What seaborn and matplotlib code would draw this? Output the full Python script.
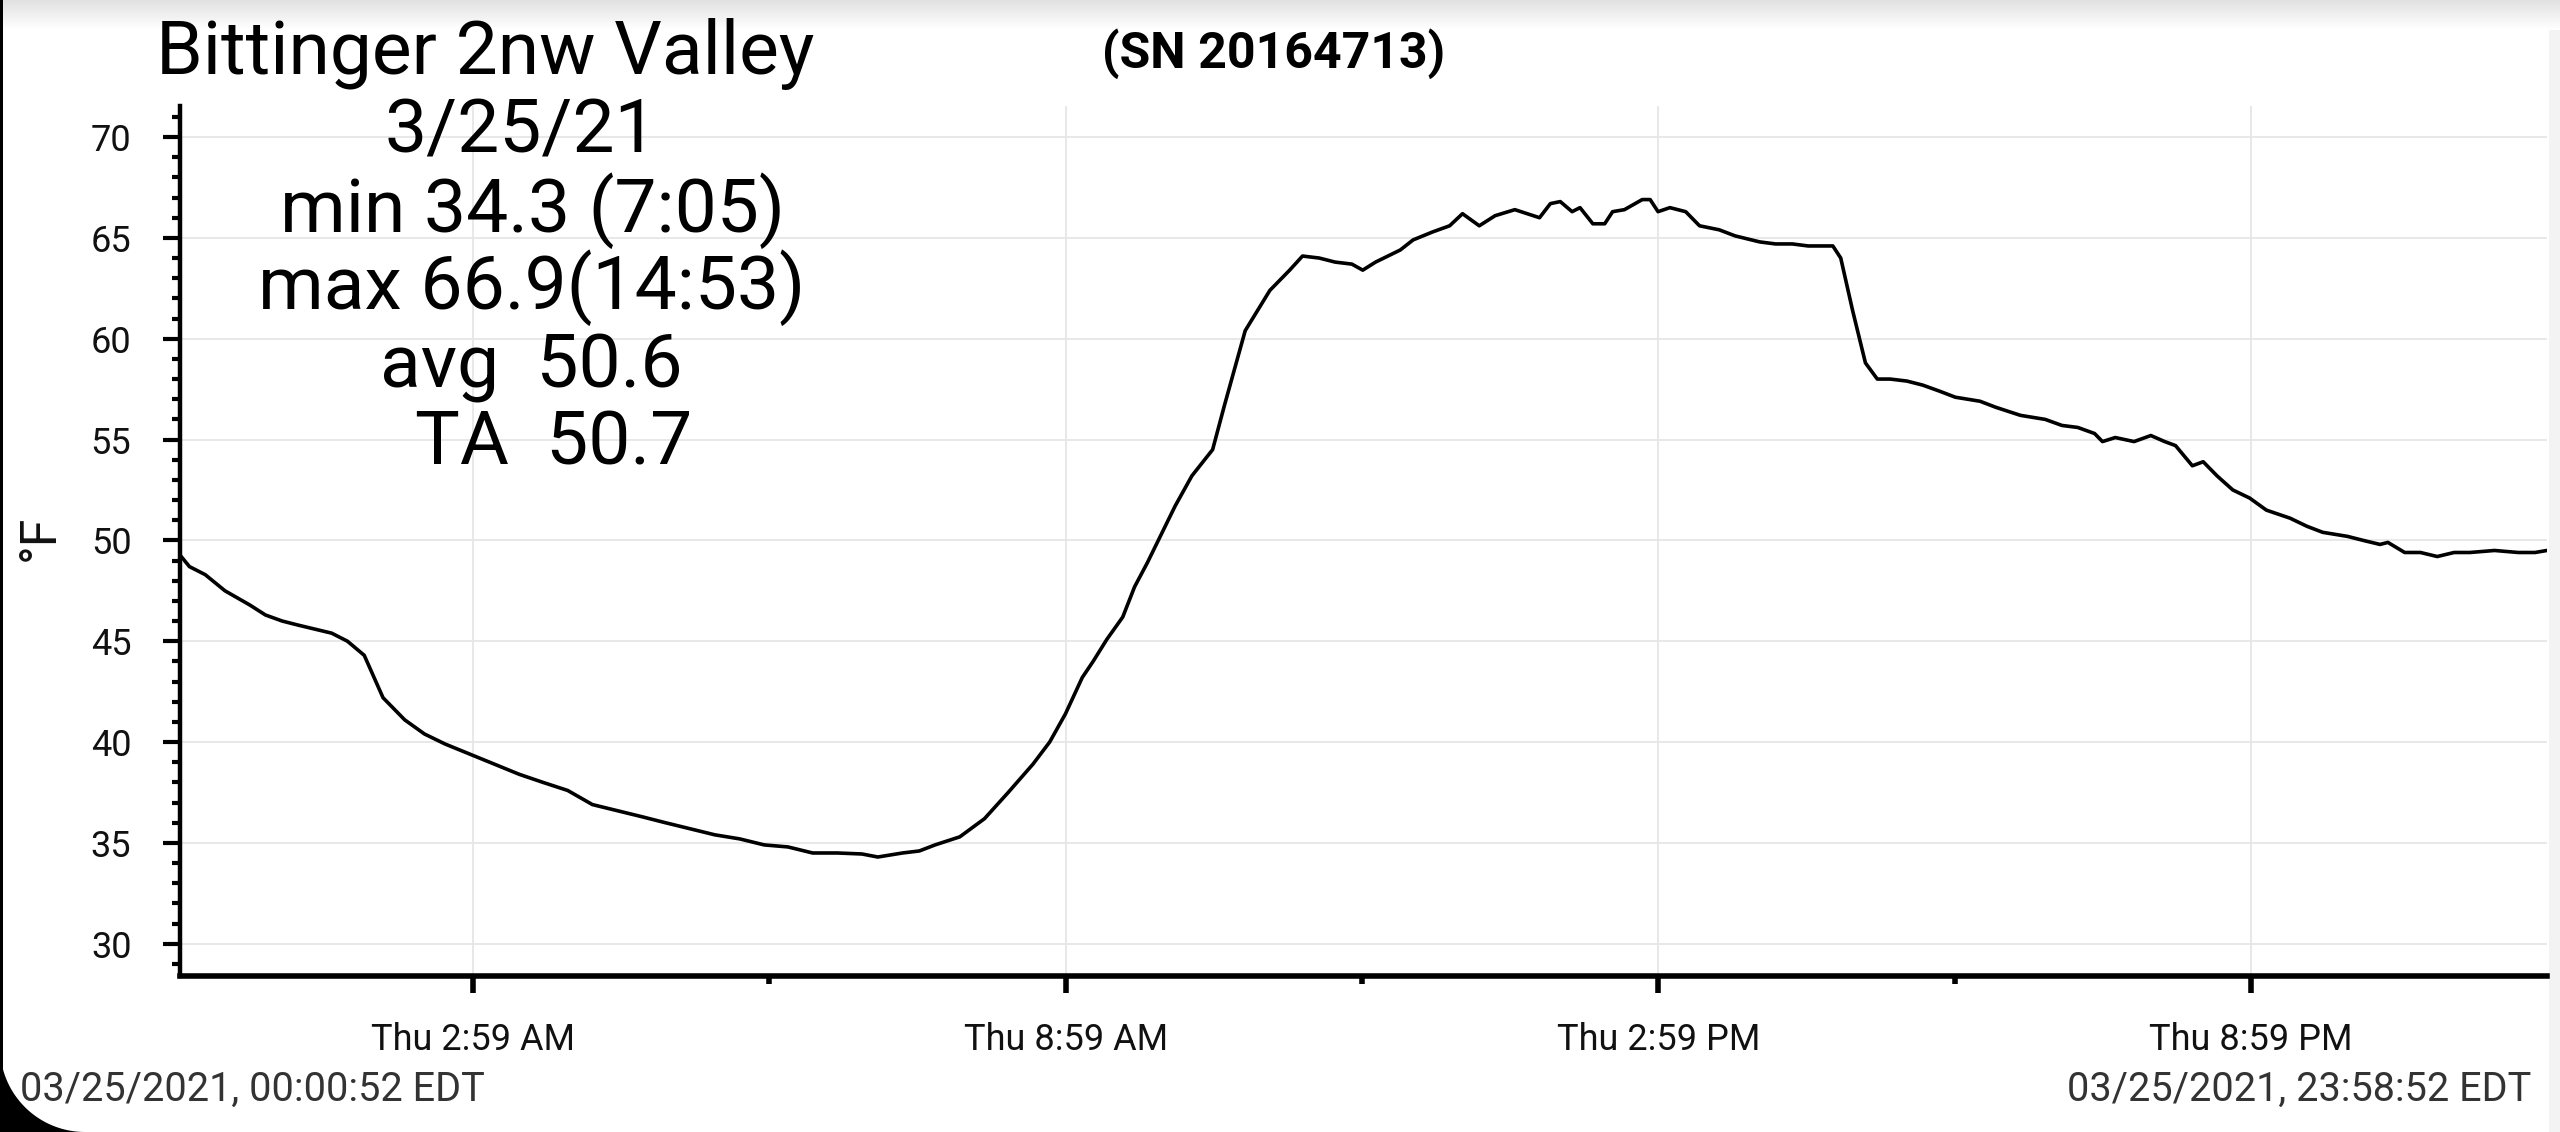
import numpy as np
import pandas as pd
import matplotlib
matplotlib.use("Agg")
import matplotlib.pyplot as plt
from matplotlib.ticker import FixedLocator, MultipleLocator
from matplotlib.patches import Polygon, Rectangle
import seaborn as sns

# ---------------- data ----------------
hours = [0.01, 0.11, 0.27, 0.47, 0.72, 0.88, 1.05, 1.21, 1.38, 1.55, 1.71, 1.88,
         2.07, 2.29, 2.49, 2.70, 2.95, 3.20, 3.45, 3.69, 3.94, 4.19, 4.44, 4.69,
         4.93, 5.18, 5.43, 5.68, 5.93, 6.17, 6.42, 6.67, 6.92, 7.08, 7.33, 7.50,
         7.66, 7.91, 8.16, 8.40, 8.65, 8.82, 8.98, 9.15, 9.26, 9.40, 9.56, 9.68,
         9.81, 9.97, 10.09, 10.26, 10.47, 10.59, 10.80, 11.05, 11.25, 11.38, 11.55,
         11.71, 11.88, 11.99, 12.12, 12.37, 12.50, 12.70, 12.87, 13.00, 13.17, 13.33,
         13.53, 13.78, 13.89, 13.99, 14.11, 14.19, 14.32, 14.44, 14.52, 14.64, 14.82,
         14.90, 14.98, 15.10, 15.26, 15.40, 15.60, 15.76, 16.01, 16.17, 16.34, 16.50,
         16.75, 16.83, 16.95, 17.08, 17.20, 17.33, 17.50, 17.66, 17.83, 17.99, 18.24,
         18.40, 18.65, 18.90, 19.07, 19.23, 19.40, 19.48, 19.61, 19.80, 19.97, 20.11,
         20.22, 20.39, 20.50, 20.64, 20.80, 20.97, 21.14, 21.38, 21.55, 21.71, 21.96,
         22.12, 22.29, 22.37, 22.54, 22.70, 22.87, 23.04, 23.20, 23.45, 23.69, 23.86,
         23.98]
temps_f = [49.3, 48.7, 48.3, 47.5, 46.8, 46.3, 46.0, 45.8, 45.6, 45.4, 45.0, 44.3,
           42.2, 41.1, 40.4, 39.9, 39.4, 38.9, 38.4, 38.0, 37.6, 36.9, 36.6, 36.3,
           36.0, 35.7, 35.4, 35.2, 34.9, 34.8, 34.5, 34.5, 34.45, 34.3, 34.5, 34.6,
           34.9, 35.3, 36.2, 37.5, 38.9, 40.0, 41.4, 43.2, 44.0, 45.1, 46.2, 47.7,
           48.9, 50.5, 51.7, 53.2, 54.5, 56.7, 60.4, 62.4, 63.4, 64.1, 64.0,
           63.8, 63.7, 63.4, 63.8, 64.4, 64.9, 65.3, 65.6, 66.2, 65.6, 66.1,
           66.4, 66.0, 66.7, 66.8, 66.3, 66.5, 65.7, 65.7, 66.3, 66.4, 66.9,
           66.9, 66.3, 66.5, 66.3, 65.6, 65.4, 65.1, 64.8, 64.7, 64.7, 64.6,
           64.6, 64.0, 61.4, 58.8, 58.0, 58.0, 57.9, 57.7, 57.4, 57.1, 56.9,
           56.6, 56.2, 56.0, 55.7, 55.6, 55.3, 54.9, 55.1, 54.9, 55.2, 54.9,
           54.7, 53.7, 53.9, 53.2, 52.5, 52.1, 51.5, 51.1, 50.7, 50.4, 50.2,
           50.0, 49.8, 49.9, 49.4, 49.4, 49.2, 49.4, 49.4, 49.5, 49.4, 49.4,
           49.5]
x_tick_hours = [2.983, 8.983, 14.983, 20.983]
x_tick_labels = ["Thu 2:59 AM", "Thu 8:59 AM", "Thu 2:59 PM", "Thu 8:59 PM"]
x_minor_hours = [5.983, 11.983, 17.983]
y_ticks = [30, 35, 40, 45, 50, 55, 60, 65, 70]
title_text = "Bittinger 2nw Valley"
serial_text = "(SN 20164713)"
stat_lines = ["3/25/21", "min 34.3 (7:05)", "max 66.9(14:53)", "avg  50.6", "TA  50.7"]
start_label = "03/25/2021, 00:00:52 EDT"
end_label = "03/25/2021, 23:58:52 EDT"
y_label = "°F"

df = pd.DataFrame({"hour": hours, "temp": temps_f})

# ---------------- style ----------------
sns.set_theme(style="white")
plt.rcParams["font.family"] = ["Roboto", "DejaVu Sans"]

W, H = 2560, 1132
fig = plt.figure(figsize=(W / 100, H / 100), dpi=100)
fig.patch.set_facecolor("white")

ax = fig.add_axes([180 / W, 1 - 976 / H, (2547 - 180) / W, (976 - 106) / H])
sns.lineplot(data=df, x="hour", y="temp", ax=ax, color="black", linewidth=2.6)

ax.set_xlim(0.0144, 23.981)
ax.set_ylim(28.4, 71.54)

ax.xaxis.set_major_locator(FixedLocator(x_tick_hours))
ax.set_xticklabels(x_tick_labels)
ax.xaxis.set_minor_locator(FixedLocator(x_minor_hours))
ax.yaxis.set_major_locator(FixedLocator(y_ticks))
ax.set_yticklabels([str(v) for v in y_ticks])
ax.yaxis.set_minor_locator(MultipleLocator(1))

ax.grid(True, which="major", color="#e6e6e6", linewidth=1.3)
ax.set_axisbelow(True)
for s in ["top", "right"]:
    ax.spines[s].set_visible(False)
ax.spines["left"].set_color("black")
ax.spines["left"].set_linewidth(3.2)
ax.spines["bottom"].set_color("black")
ax.spines["bottom"].set_linewidth(4.0)

ax.tick_params(axis="y", which="major", direction="out", length=12, width=3,
               color="black", labelsize=26, pad=23, labelcolor="#111111", left=True)
ax.tick_params(axis="y", which="minor", direction="out", length=6, width=3,
               color="black", left=True)
ax.tick_params(axis="x", which="major", direction="out", length=12, width=4,
               color="black", labelsize=26, pad=21, labelcolor="#111111", bottom=True)
ax.tick_params(axis="x", which="minor", direction="out", length=6, width=4,
               color="black", bottom=True)

ax.set_xlabel("")
ax.set_ylabel("")
fig.text(40 / W, 1 - 538 / H, y_label, rotation=90, ha="center", va="center",
         fontsize=36, color="#111111")

# ---------------- text block ----------------
fig.text(485 / W, 1 - 54 / H, title_text, ha="center", va="center", fontsize=54,
         color="black")
stat_pos = [(521, 132), (532, 211), (532, 288), (531, 367), (554, 444)]
for line, (px, py) in zip(stat_lines, stat_pos):
    fig.text(px / W, 1 - py / H, line, ha="center", va="center", fontsize=54,
             color="black")
fig.text(1274 / W, 1 - 54 / H, serial_text, ha="center", va="center", fontsize=36,
         fontweight="bold", color="black")

fig.text(20 / W, 1 - 1089 / H, start_label, ha="left", va="center", fontsize=28.5,
         color="#333333")
fig.text(2531 / W, 1 - 1089 / H, end_label, ha="right", va="center", fontsize=28.5,
         color="#333333")

# ---------------- screenshot frame decorations ----------------
shade = fig.add_axes([0, 1 - 30 / H, 1, 30 / H], zorder=-1)
grad = np.linspace(0.88, 1.0, 64).reshape(-1, 1)
shade.imshow(grad, aspect="auto", cmap="gray", vmin=0, vmax=1,
             extent=[0, 1, 0, 1], origin="upper")
shade.set_axis_off()

fig.patches.append(Rectangle((0, 0), 3 / W, 1, transform=fig.transFigure,
                             facecolor="black", edgecolor="none"))
fig.patches.append(Rectangle((2549 / W, 0), 11 / W, 1, transform=fig.transFigure,
                             facecolor="#f3f3f3", edgecolor="none", zorder=-2))
r = 85
t = np.linspace(np.pi, 1.5 * np.pi, 40)
arc = np.column_stack([(r + r * np.cos(t)) / W, (r + r * np.sin(t)) / H])
corner = np.vstack([[[0, 0]], arc])
fig.patches.append(Polygon(corner, closed=True, transform=fig.transFigure,
                           facecolor="black", edgecolor="none"))

fig.savefig("out.png", dpi=100, facecolor="white")
